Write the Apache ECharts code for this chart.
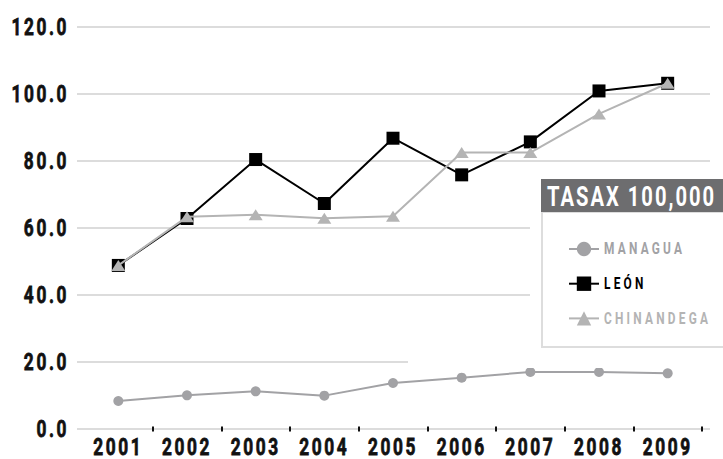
<!DOCTYPE html>
<html>
<head>
<meta charset="utf-8">
<script src="https://cdn.jsdelivr.net/npm/echarts@6/dist/echarts.min.js"></script>
<style>
    html, body { margin: 0; padding: 0; background: #fff; }
    #chart { width: 723px; height: 459px; }
</style>
</head>
<body>
<div id="chart"></div>
<script>
// datos
const years = ["2001", "2002", "2003", "2004", "2005", "2006", "2007", "2008", "2009"];
const managua = [7.7, 9.4, 10.6, 9.3, 13.1, 14.7, 16.4, 16.4, 16.0];
const leon = [48.4, 62.5, 80.2, 67.0, 86.6, 75.6, 85.5, 100.8, 103.1];
const chinandega = [48.4, 63.0, 63.6, 62.6, 63.2, 82.3, 82.3, 93.9, 103.1];
const yTicks = [0, 20, 40, 60, 80, 100, 120];
const legendTitle = "TASAX 100,000";

const FONT = "Roboto, 'Noto Sans', sans-serif";
const C_MANAGUA = "#a2a2a5";
const C_LEON = "#000000";
const C_CHIN = "#b4b4b4";

// letra condensada: ancho de la letra y espaciado segun tamano
const SQUEEZE = 0.72;
const spacingBySize = { 24: 3.6, 16.5: 4.5, 28: 2.8 };

const chart = echarts.init(document.getElementById("chart"), null, { renderer: "svg" });

const option = {
    animation: false,
    grid: [
        { left: 77, right: 13, top: 27, bottom: 30.5 },
        { left: 84, right: 21, top: 27, bottom: 30.5 },
    ],
    xAxis: [
        { gridIndex: 0, type: "value", show: false, min: 0, max: 1 },
        {
            gridIndex: 1,
            type: "category",
            data: years,
            axisLine: { show: false },
            axisTick: {
                show: true,
                interval: (i) => i > 0,
                length: 5,
                lineStyle: { color: "#111", width: 2 },
            },
            axisLabel: {
                interval: 0,
                margin: 8,
                fontFamily: FONT,
                fontWeight: "bold",
                fontSize: 24,
                color: "#111",
                textBorderColor: "#111",
                textBorderWidth: 0.8,
            },
        },
    ],
    yAxis: [
        {
            gridIndex: 0,
            type: "value",
            min: yTicks[0],
            max: yTicks[yTicks.length - 1],
            interval: 20,
            axisLine: { show: false },
            axisTick: { show: false },
            axisLabel: {
                margin: 8,
                fontFamily: FONT,
                fontWeight: "bold",
                fontSize: 24,
                color: "#111",
                textBorderColor: "#111",
                textBorderWidth: 0.8,
                formatter: (v) => v.toFixed(1),
            },
            splitLine: { lineStyle: { color: "#dcdcdc", width: 2 } },
        },
        {
            gridIndex: 1,
            type: "value",
            min: yTicks[0],
            max: yTicks[yTicks.length - 1],
            show: false,
        },
    ],
    legend: {
        orient: "vertical",
        left: 563,
        top: 235.5,
        itemWidth: 30,
        itemHeight: 18,
        itemGap: 17.7,
        textStyle: { fontFamily: FONT, fontWeight: "bold", fontSize: 16.5 },
        data: [
            { name: "MANAGUA", textStyle: { color: C_MANAGUA } },
            { name: "LEÓN", textStyle: { color: C_LEON } },
            { name: "CHINANDEGA", textStyle: { color: C_CHIN } },
        ],
        z: 10,
    },
    graphic: [
        // cuadro de la leyenda
        {
            type: "rect",
            z: 5,
            shape: { x: 530, y: 212, width: 200, height: 136 },
            style: { fill: "#fff" },
        },
        {
            type: "rect",
            z: 5,
            shape: { x: 408, y: 356, width: 320, height: 12 },
            style: { fill: "#fff" },
        },
        {
            type: "rect",
            z: 6,
            shape: { x: 542, y: 212, width: 190, height: 135 },
            style: { fill: "#fff", stroke: "#dddddd", lineWidth: 2 },
        },
        {
            type: "rect",
            z: 6,
            shape: { x: 541, y: 179, width: 190, height: 33 },
            style: { fill: "#6d6d6f" },
        },
        {
            type: "text",
            z: 7,
            x: 547,
            y: 196,
            style: {
                text: legendTitle,
                fill: "#fff",
                font: "bold 28px " + FONT,
                align: "left",
                verticalAlign: "middle",
            },
        },
    ],
    series: [
        {
            name: "MANAGUA",
            type: "line",
            xAxisIndex: 1,
            yAxisIndex: 1,
            data: managua,
            symbol: "circle",
            symbolSize: 10,
            lineStyle: { color: C_MANAGUA, width: 2 },
            itemStyle: { color: C_MANAGUA },
            z: 3,
        },
        {
            name: "LEÓN",
            type: "line",
            xAxisIndex: 1,
            yAxisIndex: 1,
            data: leon,
            symbol: "rect",
            symbolSize: 13,
            lineStyle: { color: C_LEON, width: 2 },
            itemStyle: { color: C_LEON },
            z: 3,
        },
        {
            name: "CHINANDEGA",
            type: "line",
            xAxisIndex: 1,
            yAxisIndex: 1,
            data: chinandega,
            symbol: "triangle",
            symbolSize: [14, 11],
            lineStyle: { color: C_CHIN, width: 2 },
            itemStyle: { color: C_CHIN },
            z: 4,
        },
    ],
};

chart.setOption(option);

// estrecha cada texto alrededor de su punto de anclaje
const condense = () => {
    document.querySelectorAll("#chart svg text").forEach((t) => {
        if (t.dataset.narrow) return;
        t.dataset.narrow = "1";
        const size = parseFloat(getComputedStyle(t).fontSize);
        const sp = spacingBySize[size];
        if (sp) t.style.letterSpacing = sp + "px";
        const x = parseFloat(t.getAttribute("x") || 0);
        const prev = t.getAttribute("transform") || "";
        t.setAttribute(
            "transform",
            `${prev} translate(${x} 0) scale(${SQUEEZE} 1) translate(${-x} 0)`
        );
    });
};
condense();
chart.on("finished", condense);
</script>
</body>
</html>
